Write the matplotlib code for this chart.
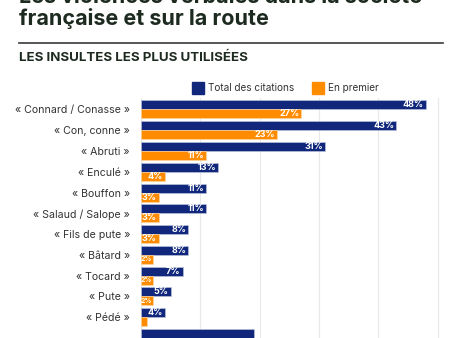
import matplotlib
matplotlib.use("Agg")
import matplotlib.pyplot as plt
from matplotlib.patches import Rectangle

plt.rcParams['font.family'] = ['Inter', 'DejaVu Sans']

categories = ["« Connard / Conasse »", "« Con, conne »", "« Abruti »", "« Enculé »",
              "« Bouffon »", "« Salaud / Salope »", "« Fils de pute »", "« Bâtard »",
              "« Tocard »", "« Pute »", "« Pédé »", ""]
total = [48, 43, 31, 13, 11, 11, 8, 8, 7, 5, 4, 19]
premier = [27, 23, 11, 4, 3, 3, 3, 2, 2, 2, 1, 0]
series_names = ["Total des citations", "En premier"]

NAVY = "#10277c"
ORANGE = "#ff8c00"
W, H = 453, 338
fig = plt.figure(figsize=(W / 100, H / 100), dpi=100)
fig.patch.set_facecolor("white")

def fx(px):
    return px / W

def fy(py):
    return 1 - py / H

# titles
fig.text(fx(19), fy(3), "Les violences verbales dans la société", fontsize=15.5,
         fontweight="bold", color="#1d2a1f", va="baseline", ha="left")
fig.text(fx(19), fy(25), "française et sur la route", fontsize=15.5,
         fontweight="bold", color="#1d2a1f", va="baseline", ha="left")
fig.add_artist(plt.Line2D([fx(19), fx(443)], [fy(43), fy(43)], color="#3a3a3a", lw=1.2))
fig.text(fx(19), fy(61), "LES INSULTES LES PLUS UTILISÉES", fontsize=9.6,
         fontweight="bold", color="#1d2a1f", va="baseline", ha="left")

# legend
for (x0, col, name) in [(192, NAVY, series_names[0]), (312, ORANGE, series_names[1])]:
    fig.add_artist(Rectangle((fx(x0), fy(94)), 12 / W, 12 / H, color=col,
                             transform=fig.transFigure))
    fig.text(fx(x0 + 16), fy(88), name, fontsize=7.2, color="#333333",
             va="center", ha="left")

# axes
top_px, bot_px = 98, 338
pitch = 21.43
c0 = 109.8
ax = fig.add_axes([fx(141), 0, fx(443) - fx(141), (bot_px - top_px) / H])
ax.set_ylim((bot_px - c0) / pitch, (top_px - c0) / pitch)
ax.set_xlim(0, (443 - 141) / 5.93)

bh = 0.435
ys = list(range(len(categories)))
ax.barh([y - bh / 2 for y in ys], total, height=bh, color=NAVY,
        edgecolor="#c5cbe0", linewidth=0.4, zorder=3)
ax.barh([y + bh / 2 for y in ys], premier, height=bh, color=ORANGE,
        edgecolor="#ffd9a8", linewidth=0.4, zorder=3)

for y, v, lab in zip(ys, total, categories):
    if v > 0 and lab:
        ax.text(v - 0.3, y - bh / 2, f"{v}%", color="white", fontsize=6.5,
                fontweight="bold", ha="right", va="center", zorder=4)
for y, v in zip(ys, premier):
    if v >= 3:
        ax.text(v - 0.3, y + bh / 2, f"{v}%", color="white", fontsize=6.5,
                fontweight="bold", ha="right", va="center", zorder=4)
    elif v == 2:
        ax.text(v - 0.2, y + bh / 2, f"{v}%", color="white", fontsize=5,
                fontweight="bold", ha="right", va="center", zorder=4)

ax.set_yticks(ys)
ax.set_yticklabels(categories, fontsize=7.6, color="#333333")
ax.tick_params(axis="y", length=0, pad=8)
ax.set_xticks([0, 10, 20, 30, 40, 50])
ax.tick_params(axis="x", length=0, labelbottom=False)
ax.grid(axis="x", color="#e8e8e8", lw=0.8, zorder=0)
for s in ax.spines.values():
    s.set_visible(False)

fig.savefig("out.png", dpi=100, facecolor="white")
